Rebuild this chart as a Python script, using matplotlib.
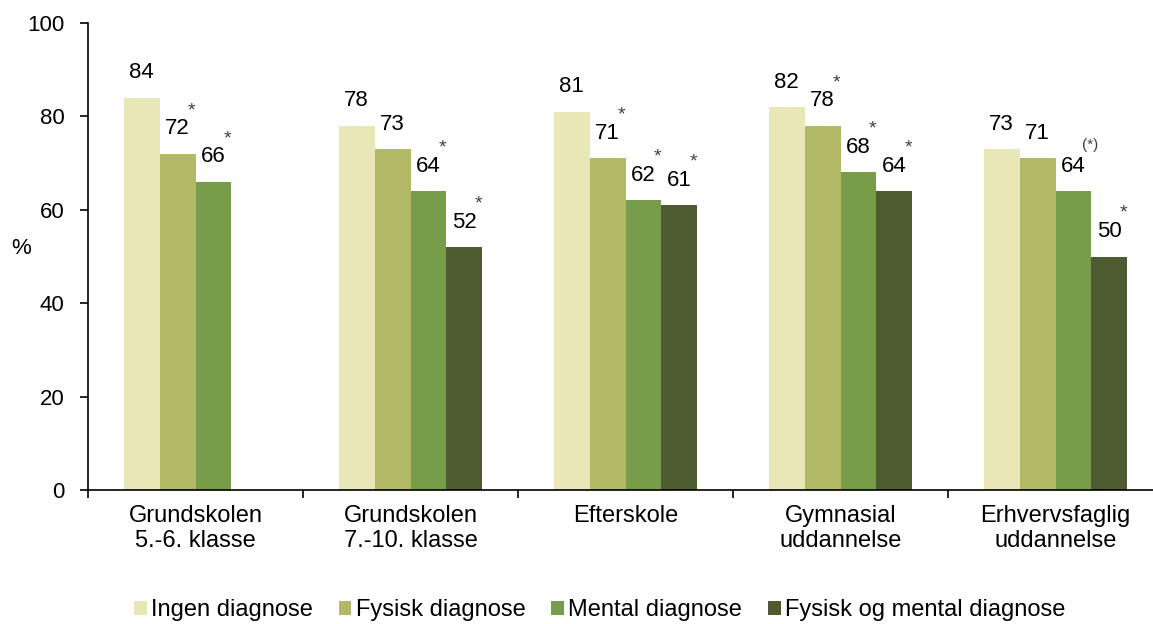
import numpy as np
import matplotlib.pyplot as plt

plt.rcParams['font.family'] = ['Liberation Sans', 'DejaVu Sans']

# data
categories = ["Grundskolen\n5.-6. klasse", "Grundskolen\n7.-10. klasse", "Efterskole",
              "Gymnasial\nuddannelse", "Erhvervsfaglig\nuddannelse"]
series_names = ["Ingen diagnose", "Fysisk diagnose", "Mental diagnose", "Fysisk og mental diagnose"]
ingen = [84, 78, 81, 82, 73]
fysisk = [72, 73, 71, 78, 71]
mental = [66, 64, 62, 68, 64]
begge = [None, 52, 61, 64, 50]
marks_ingen = ["", "", "", "", ""]
marks_fysisk = ["*", "", "*", "*", ""]
marks_mental = ["*", "*", "*", "*", "(*)"]
marks_begge = ["", "*", "*", "*", "*"]

colors = ["#E9E7B8", "#B1B967", "#789D4A", "#4E5A30"]
series = [ingen, fysisk, mental, begge]
marks = [marks_ingen, marks_fysisk, marks_mental, marks_begge]

fig = plt.figure(figsize=(11.53, 6.24), dpi=100)
ax = fig.add_axes([88 / 1153, 134 / 624, 1075 / 1153, 467 / 624])

w = 0.167
x = np.arange(len(categories)) + 0.5
for j, (vals, mks) in enumerate(zip(series, marks)):
    for i, v in enumerate(vals):
        if v is None:
            continue
        xi = x[i] + (j - 1.5) * w
        ax.bar(xi, v, width=w, color=colors[j], edgecolor="none",
               label=series_names[j] if i == 1 else None)
        ax.annotate(str(v), (xi, v), xytext=(0, 18), textcoords="offset points",
                    ha="center", va="center", fontsize=16)
        mk = mks[i]
        if mk:
            if mk == "(*)":
                ax.annotate(mk, (xi, v), xytext=(12, 33), textcoords="offset points",
                            ha="center", va="center", fontsize=11, color="#404040")
            else:
                ax.annotate(mk, (xi, v), xytext=(10, 31), textcoords="offset points",
                            ha="center", va="center", fontsize=14, color="#404040")

ax.set_xlim(0, len(categories))
ax.set_ylim(0, 100)
ax.set_yticks([0, 20, 40, 60, 80, 100])
ax.set_xticks(np.arange(len(categories) + 1))
ax.set_xticklabels([])
ax.set_xticks(x, minor=True)
ax.set_xticklabels(categories, minor=True, fontsize=17, linespacing=1.15)
ax.tick_params(axis="x", which="minor", length=0, pad=11)
ax.tick_params(axis="x", which="major", direction="out", length=6, width=1.2)
ax.tick_params(axis="y", direction="out", length=6, width=1.2, labelsize=16, pad=11)
ax.spines["top"].set_visible(False)
ax.spines["right"].set_visible(False)
ax.spines["left"].set_linewidth(1.2)
ax.spines["bottom"].set_linewidth(1.2)
ax.set_ylabel("%", rotation=0, fontsize=16, va="center", ha="center")
ax.yaxis.set_label_coords(-67 / 1075, 0.517)

fig.legend(loc="center", bbox_to_anchor=(0.52, 1 - 610 / 624), ncol=4, frameon=False,
           fontsize=17, handlelength=0.55, handleheight=0.55, handletextpad=0.17,
           columnspacing=1.1, borderaxespad=0)

fig.savefig("out.png", dpi=100)
